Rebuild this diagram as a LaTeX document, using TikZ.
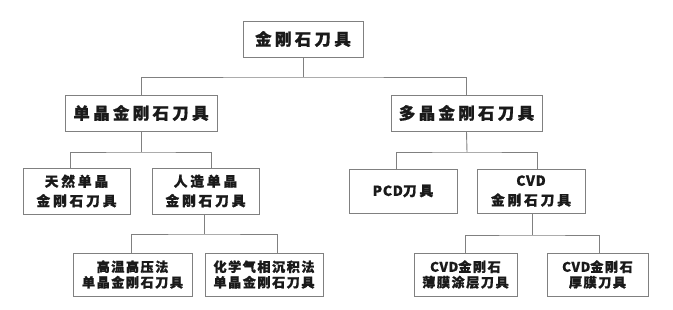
\documentclass[tikz,border=0pt]{standalone}
\usepackage{fontspec}
\setmainfont{Noto Sans CJK SC}
\newfontfamily\fbig[LetterSpace=20,BoldFeatures={FakeBold=0.8}]{Noto Sans CJK SC}
\newfontfamily\fmid[LetterSpace=20,BoldFeatures={FakeBold=0.8}]{Noto Sans CJK SC}
\newfontfamily\fsml[LetterSpace=11,BoldFeatures={FakeBold=0.8}]{Noto Sans CJK SC}
\newfontfamily\flatin[LetterSpace=5,BoldFeatures={FakeBold=0.8}]{Noto Sans CJK SC}
\newcommand{\latw}[1]{{\flatin\bfseries #1}}
\definecolor{linegray}{HTML}{808080}
\definecolor{txt}{HTML}{1A1A1A}
\begin{document}
\begin{tikzpicture}[x=1pt,y=-1pt,
  box/.style={draw=linegray, line width=0.9pt, fill=white, inner sep=0pt, align=center, text=txt},
  lvA/.style={box, font=\fbig\bfseries\fontsize{16.5}{18}\selectfont},
  lvB/.style={box, font=\fmid\bfseries\fontsize{13.8}{19.5}\selectfont},
  lvC/.style={box, font=\fsml\bfseries\fontsize{13.2}{15.5}\selectfont},
  conn/.style={draw=linegray, line width=0.9pt}
]
\useasboundingbox[fill=white] (0,0) rectangle (673,309);

\node[lvA, minimum width=120pt, minimum height=36pt] (root) at (303,39) {金刚石刀具};
\node[lvA, minimum width=152pt, minimum height=36pt] (s1) at (141,113) {单晶金刚石刀具};
\node[lvA, minimum width=151pt, minimum height=36pt] (p1) at (466.5,113) {多晶金刚石刀具};

\node[lvB, minimum width=107pt, minimum height=46pt] (n1) at (76.5,191) {天然单晶\\金刚石刀具};
\node[lvB, minimum width=107pt, minimum height=46pt] (a1) at (205.5,191) {人造单晶\\金刚石刀具};
\node[lvB, minimum width=108pt, minimum height=44pt] (pcd) at (403,191) {\latw{PCD}刀具};
\node[lvB, minimum width=108pt, minimum height=44pt] (cvd) at (531,191) {\latw{CVD}\\金刚石刀具};

\node[lvC, minimum width=119pt, minimum height=43pt] (h1) at (132.5,274.5) {高温高压法\\单晶金刚石刀具};
\node[lvC, minimum width=118pt, minimum height=43pt] (c1) at (264,274.5) {化学气相沉积法\\单晶金刚石刀具};
\node[lvC, minimum width=103pt, minimum height=43pt] (t1) at (465.5,274.5) {\latw{CVD}金刚石\\薄膜涂层刀具};
\node[lvC, minimum width=101pt, minimum height=43pt] (k1) at (597.5,274.5) {\latw{CVD}金刚石\\厚膜刀具};

\coordinate (b0) at (303,77);
\coordinate (b1) at (141,152);
\coordinate (b2) at (467,152);
\coordinate (b3) at (204,234);
\coordinate (b4) at (532,235);

\draw[conn] (root.south) -- (b0);
\draw[conn] (s1.north) |- (b0) -| (p1.north);

\draw[conn] (s1.south) -- (b1);
\draw[conn] ([xshift=-6.5pt]n1.north) |- (b1) -| ([xshift=5.5pt]a1.north);

\draw[conn] (p1.south) -- (b2);
\draw[conn] ([xshift=-7pt]pcd.north) |- (b2) -| ([xshift=6pt]cvd.north);

\draw[conn] ([xshift=-1.5pt]a1.south) -- (b3);
\draw[conn] ([xshift=-1.5pt]h1.north) |- (b3) -| ([xshift=13pt]c1.north);

\draw[conn] ([xshift=1pt]cvd.south) -- (b4);
\draw[conn] ([xshift=-0.5pt]t1.north) |- (b4) -| ([xshift=1.5pt]k1.north);
\end{tikzpicture}
\end{document}
